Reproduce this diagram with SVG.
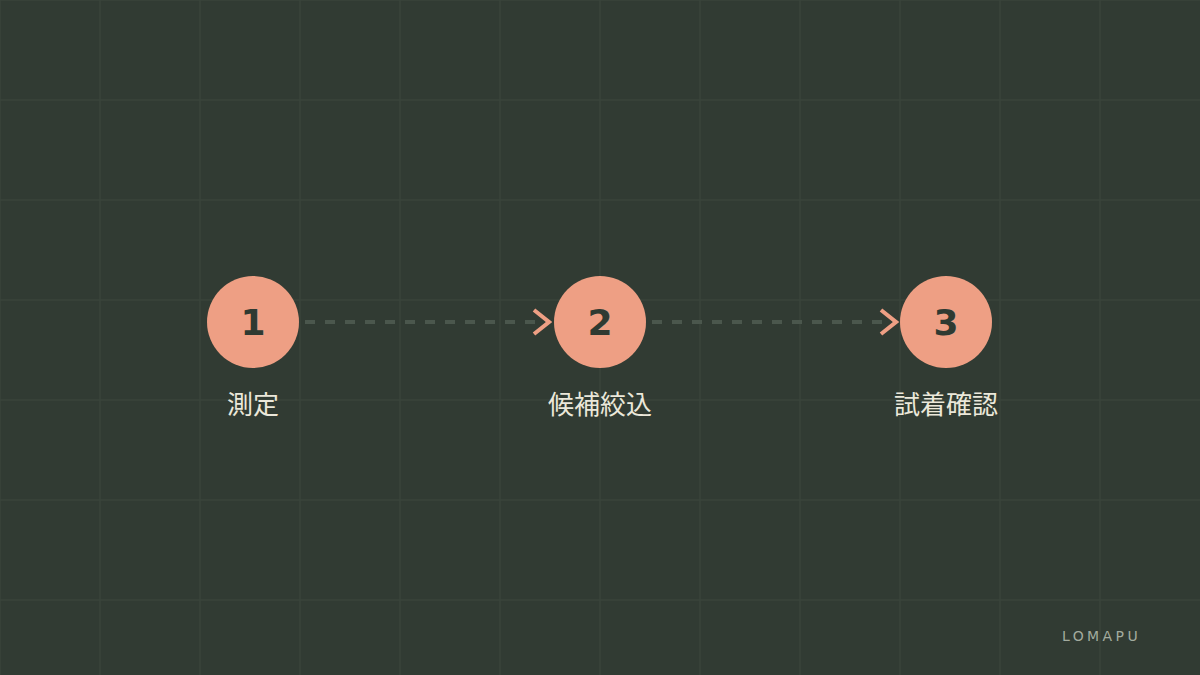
<svg xmlns="http://www.w3.org/2000/svg" width="1200" height="675" viewBox="0 0 1200 675">
  <defs>
    <style>
      .grid line { stroke: #3a453b; stroke-width: 1.5; }
      .node circle { fill: #ee9f84; }
      .num { font-family: "DejaVu Sans", sans-serif; font-weight: bold; font-size: 36px; fill: #2f3a32; text-anchor: middle; }
      .lbl { font-family: "Noto Sans CJK JP", sans-serif; font-size: 26px; fill: #ebe8da; text-anchor: middle; }
      .conn line { stroke: #4b574d; stroke-width: 4; stroke-dasharray: 10 10; }
      .brand { font-family: "DejaVu Sans", sans-serif; font-size: 14px; fill: #a3ab9f; letter-spacing: 3.4px; }
    </style>
    <marker id="chev" viewBox="0 0 20 30" markerWidth="20" markerHeight="30" refX="17" refY="15" orient="auto" markerUnits="userSpaceOnUse">
      <polyline points="2,3 17,15 2,27" fill="none" stroke="#ee9f84" stroke-width="4"/>
    </marker>
  </defs>
  <rect width="1200" height="675" fill="#313b33"/>
  <g class="grid">
    <line x1="0" y1="0" x2="0" y2="675"/>
    <line x1="100" y1="0" x2="100" y2="675"/>
    <line x1="200" y1="0" x2="200" y2="675"/>
    <line x1="300" y1="0" x2="300" y2="675"/>
    <line x1="400" y1="0" x2="400" y2="675"/>
    <line x1="500" y1="0" x2="500" y2="675"/>
    <line x1="600" y1="0" x2="600" y2="675"/>
    <line x1="700" y1="0" x2="700" y2="675"/>
    <line x1="800" y1="0" x2="800" y2="675"/>
    <line x1="900" y1="0" x2="900" y2="675"/>
    <line x1="1000" y1="0" x2="1000" y2="675"/>
    <line x1="1100" y1="0" x2="1100" y2="675"/>
    <line x1="0" y1="0" x2="1200" y2="0"/>
    <line x1="0" y1="100" x2="1200" y2="100"/>
    <line x1="0" y1="200" x2="1200" y2="200"/>
    <line x1="0" y1="300" x2="1200" y2="300"/>
    <line x1="0" y1="400" x2="1200" y2="400"/>
    <line x1="0" y1="500" x2="1200" y2="500"/>
    <line x1="0" y1="600" x2="1200" y2="600"/>
  </g>
  <g class="conn" id="connectors">
    <line x1="305" y1="322" x2="549" y2="322" marker-end="url(#chev)"/>
    <line x1="652" y1="322" x2="896" y2="322" marker-end="url(#chev)"/>
  </g>
  <g class="node" id="node1">
    <circle cx="253" cy="322" r="46"/>
    <text class="num" x="253" y="335">1</text>
    <text class="lbl" x="253" y="414">測定</text>
  </g>
  <g class="node" id="node2">
    <circle cx="600" cy="322" r="46"/>
    <text class="num" x="600" y="335">2</text>
    <text class="lbl" x="600" y="414">候補絞込</text>
  </g>
  <g class="node" id="node3">
    <circle cx="946" cy="322" r="46"/>
    <text class="num" x="946" y="335">3</text>
    <text class="lbl" x="946" y="414">試着確認</text>
  </g>
  <text class="brand" x="1062" y="641">LOMAPU</text>
</svg>
